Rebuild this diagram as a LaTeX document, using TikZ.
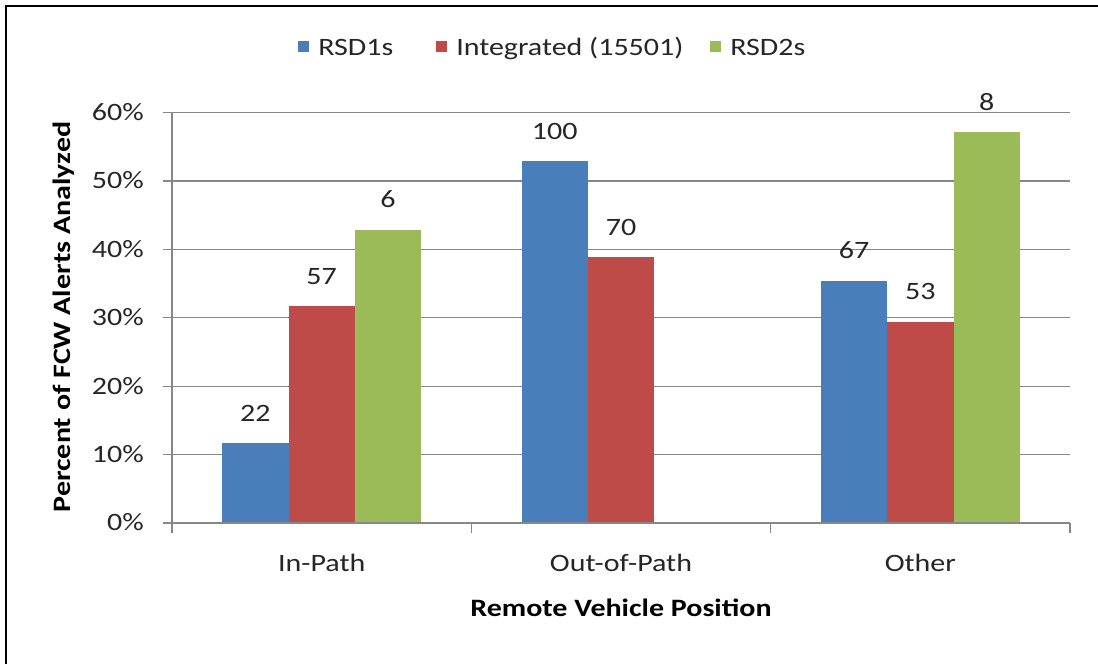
\documentclass[tikz,border=0pt]{standalone}
\usepackage{fontspec}
\setmainfont{Carlito}[FakeStretch=1.2]
\definecolor{cblue}{HTML}{4A7EBB}
\definecolor{cred}{HTML}{BE4B48}
\definecolor{cgreen}{HTML}{9BBB59}
\definecolor{cgrid}{HTML}{878787}
\definecolor{ctext}{HTML}{262626}
\tikzset{
  txt/.style={inner sep=0pt, text=ctext, font=\fontsize{18.75}{22}\selectfont},
  btxt/.style={inner sep=0pt, text=black, font=\fontsize{18.75}{22}\selectfont\bfseries},
  grid line/.style={cgrid, line width=0.9pt},
  barblue/.style={fill=cblue},
  barred/.style={fill=cred},
  bargreen/.style={fill=cgreen},
}
\begin{document}
\begin{tikzpicture}[x=0.75pt,y=-0.75pt]
\useasboundingbox (0,0) rectangle (1098,664);
\fill[white] (0,0) rectangle (1098,664);
\draw[line width=1.5pt, black] (6,664) -- (6,6) -- (1098,6);

% gridlines and tick labels
\foreach \k/\lab in {0/0\%,1/10\%,2/20\%,3/30\%,4/40\%,5/50\%,6/60\%}{
  \draw[grid line] (163,{523-68.4*\k}) -- (1070,{523-68.4*\k});
  \node[txt, anchor=base east] (tick\k) at (144,{523-68.4*\k+7.8}) {\lab};
}

% bars
\fill[barblue]  (222.3,523) rectangle (288.6,443.4);
\fill[barred]   (288.6,523) rectangle (354.9,306.4);
\fill[bargreen] (354.9,523) rectangle (421.2,229.9);
\fill[barblue]  (521.6,523) rectangle (587.9,161.1);
\fill[barred]   (587.9,523) rectangle (654.2,257.0);
\fill[barblue]  (820.9,523) rectangle (887.2,280.5);
\fill[barred]   (887.2,523) rectangle (953.5,321.6);
\fill[bargreen] (953.5,523) rectangle (1019.8,132.1);

% axes
\draw[grid line] (172,112.7) -- (172,533);
\draw[grid line] (163,523) -- (1070,523);
\foreach \x in {471.3,770.7,1070}{
  \draw[grid line] (\x,523) -- (\x,533);
}

% data labels
\node[txt, anchor=base] (l1) at (255.4,421.4) {22};
\node[txt, anchor=base] (l2) at (321.7,284.4) {57};
\node[txt, anchor=base] (l3) at (388.0,207.9) {6};
\node[txt, anchor=base] (l4) at (554.7,139.1) {100};
\node[txt, anchor=base] (l5) at (621.0,235.0) {70};
\node[txt, anchor=base] (l6) at (854.0,258.5) {67};
\node[txt, anchor=base] (l7) at (920.3,299.6) {53};
\node[txt, anchor=base] (l8) at (986.6,110.1) {8};

% category labels
\node[txt, anchor=base] (c1) at (321.7,571.5) {In-Path};
\node[txt, anchor=base] (c2) at (621.0,571.5) {Out-of-Path};
\node[txt, anchor=base] (c3) at (920.3,571.5) {Other};

% axis titles
\node[btxt, anchor=base] (xt) at (621.0,616) {Remote Vehicle Position};
\node[btxt, anchor=base, rotate=90] (yt) at (70.5,317) {Percent of FCW Alerts Analyzed};

% legend
\fill[barblue]  (298,41) rectangle (309,52);
\node[txt, anchor=base west] (lg1) at (318,55) {RSD1s};
\fill[barred]   (436,41) rectangle (447,52);
\node[txt, anchor=base west] (lg2) at (456,55) {Integrated (15501)};
\fill[bargreen] (710,41) rectangle (721,52);
\node[txt, anchor=base west] (lg3) at (730,55) {RSD2s};
\end{tikzpicture}
\end{document}
